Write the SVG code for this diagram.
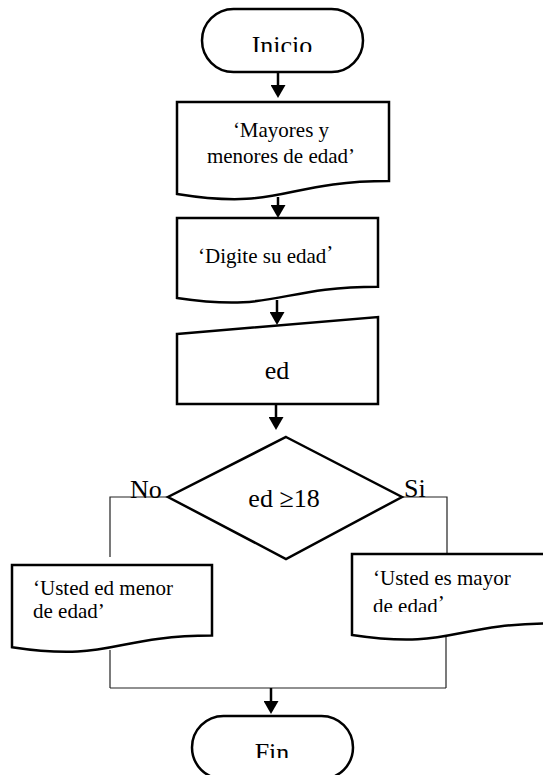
<svg xmlns="http://www.w3.org/2000/svg" width="543" height="775" viewBox="0 0 543 775">
  <style>
    .shape { fill: #fff; stroke: #000; stroke-width: 2.5; stroke-linejoin: miter; }
    .label { font-family: "Liberation Serif", "Times New Roman", serif; font-size: 21px; fill: #000; }
    .big { font-size: 26px; }
    .flow { fill: none; stroke: #000; stroke-width: 2.5; }
    .wire { fill: none; stroke: #222; stroke-width: 1.2; }
  </style>
  <defs>
    <marker id="head" viewBox="0 0 13 15" refX="0" refY="7.5" markerWidth="13" markerHeight="15" markerUnits="userSpaceOnUse" orient="auto">
      <path d="M0,0 L13,7.5 L0,15 Z" fill="#000"/>
    </marker>
    <clipPath id="clipInicio"><rect x="202" y="9" width="161" height="43"/></clipPath>
    <clipPath id="clipFin"><rect x="192" y="716" width="161" height="42"/></clipPath>
    <clipPath id="clipMayor"><rect x="352" y="554" width="200" height="58"/></clipPath>
  </defs>
  <rect width="543" height="775" fill="#fff"/>

  <!-- connectors -->
  <g id="connectors">
    <line class="flow" x1="278" y1="72" x2="278" y2="85" marker-end="url(#head)"/>
    <line class="flow" x1="278" y1="197" x2="278" y2="205" marker-end="url(#head)"/>
    <line class="flow" x1="277" y1="300" x2="277" y2="312" marker-end="url(#head)"/>
    <line class="flow" x1="276" y1="404" x2="276" y2="417" marker-end="url(#head)"/>
    <polyline class="wire" points="168,497 110,497 110,557"/>
    <polyline class="wire" points="402,497 447,497 447,554"/>
    <line class="wire" x1="110" y1="650" x2="110" y2="688"/>
    <line class="wire" x1="446" y1="637" x2="446" y2="688"/>
    <line class="wire" x1="110" y1="688" x2="446" y2="688"/>
    <line class="flow" x1="271" y1="688" x2="271" y2="701" marker-end="url(#head)"/>
  </g>

  <!-- start -->
  <g id="inicio">
    <rect class="shape" x="202" y="9" width="161" height="63" rx="31.5"/>
    <text class="label big" x="282" y="54" text-anchor="middle" clip-path="url(#clipInicio)">Inicio</text>
  </g>

  <!-- title output -->
  <g id="titulo">
    <path class="shape" d="M177,102 H389 V181 C283,181 283,211 177,194 Z"/>
    <text class="label" x="281" y="137" text-anchor="middle">‘Mayores y</text>
    <text class="label" x="281" y="163" text-anchor="middle">menores de edad’</text>
  </g>

  <!-- prompt output -->
  <g id="pedir">
    <path class="shape" d="M177,218 H378 V286.7 C277.5,286.7 277.5,312.9 177,298 Z"/>
    <text class="label" x="198" y="263">‘Digite su edad<tspan dy="-3">’</tspan></text>
  </g>

  <!-- manual input -->
  <g id="leer">
    <polygon class="shape" points="177,334 378,317 378,404 177,404"/>
    <text class="label big" x="277" y="379" text-anchor="middle">ed</text>
  </g>

  <!-- decision -->
  <g id="decision">
    <polygon class="shape" points="286,437 402,497 286,559 168,497"/>
    <text class="label big" x="284" y="507" text-anchor="middle">ed ≥18</text>
    <text class="label big" x="130" y="498">No</text>
    <text class="label big" x="404" y="497">Si</text>
  </g>

  <!-- minor output -->
  <g id="menor">
    <path class="shape" d="M12,565 H212 V635.6 C112,635.6 112,662.4 12,647.2 Z"/>
    <text class="label" x="33" y="595">‘Usted ed menor</text>
    <text class="label" x="33" y="618">de edad’</text>
  </g>

  <!-- adult output -->
  <g id="mayor">
    <path class="shape" d="M352,554 H552 V623.5 C452,623.5 452,650 352,635 Z"/>
    <text class="label" x="373" y="585">‘Usted es mayor</text>
    <text class="label" x="373" y="613" clip-path="url(#clipMayor)">de edad<tspan dy="-3">’</tspan></text>
  </g>

  <!-- end -->
  <g id="fin">
    <rect class="shape" x="192" y="716" width="161" height="63" rx="31.5"/>
    <text class="label big" x="272" y="761" text-anchor="middle" clip-path="url(#clipFin)">Fin</text>
  </g>
</svg>
